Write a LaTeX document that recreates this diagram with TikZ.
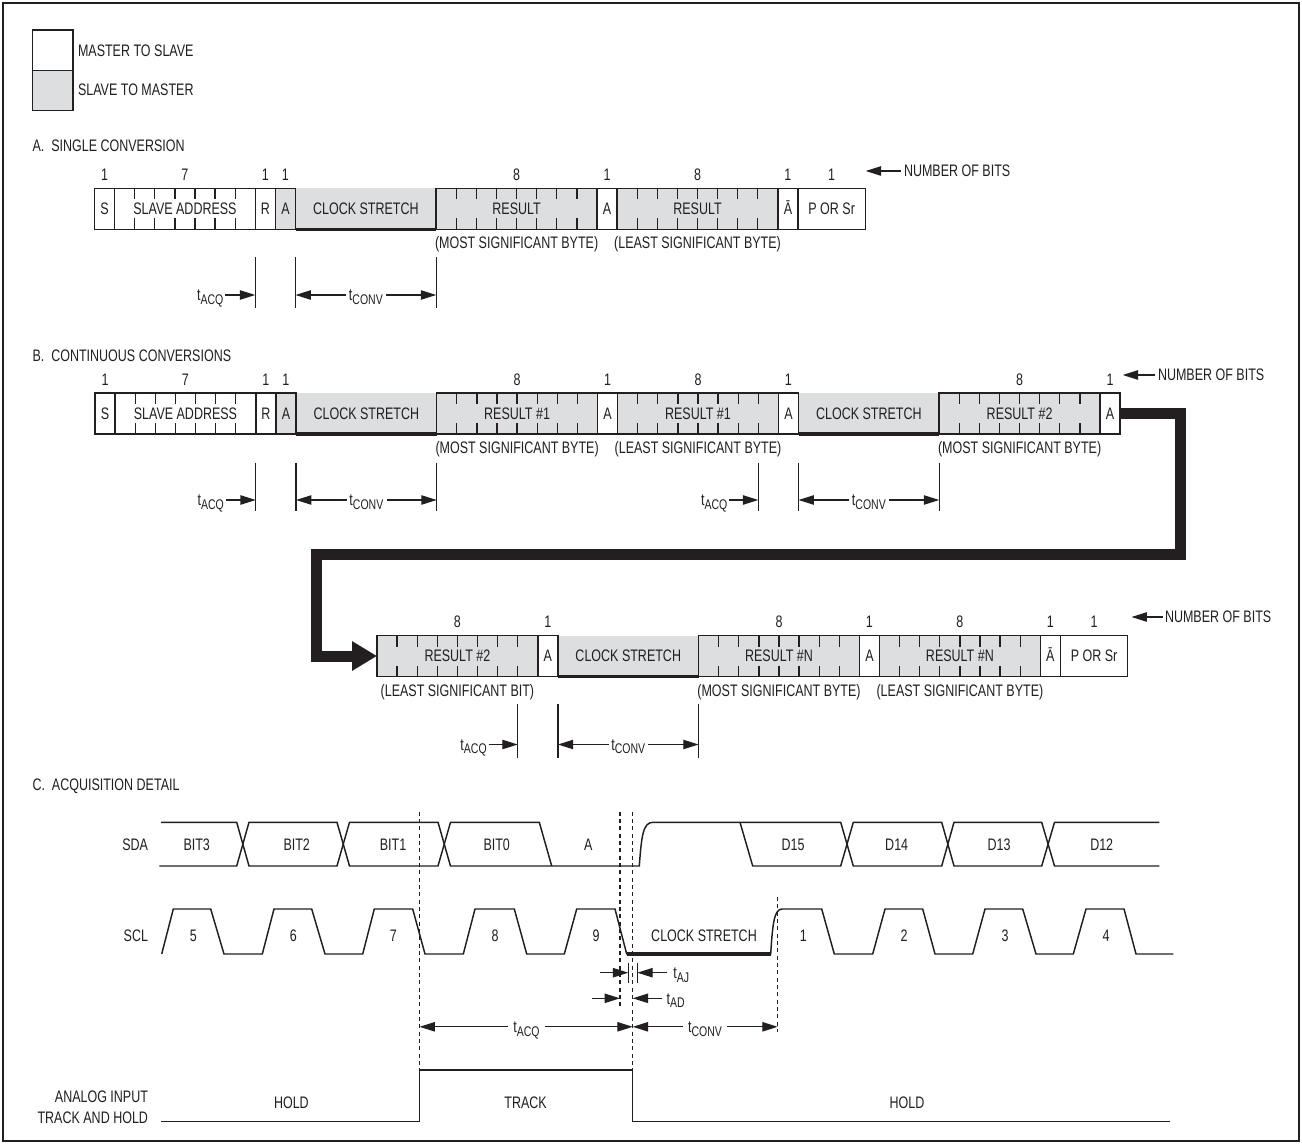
\documentclass[tikz,border=0pt]{standalone}
\usepackage{fontspec}
\setmainfont{Liberation Sans}[FakeStretch=0.75]
\usetikzlibrary{arrows.meta,calc}
\definecolor{ink}{RGB}{35,31,32}
\definecolor{fillgray}{RGB}{221,222,223}
\newcommand\tsub[1]{t\raisebox{-0.4ex}{\fontsize{10.5}{10.5}\selectfont #1}}
\def\bw{15.075pt}
\def\fh{30.75pt}
\newcommand\ticks[3]{%
  \foreach \k in {1,...,#3}{%
    \draw[tickline] ($(#1.north west)!\k/#2!(#1.north east)$) -- ++(0,11);
    \draw[tickline] ($(#1.south west)!\k/#2!(#1.south east)$) -- ++(0,-11);
  }}
\begin{document}
\begin{tikzpicture}[x=0.75pt,y=-0.75pt,line join=miter,
  every node/.style={font=\fontsize{12.5}{12.5}\selectfont, text=ink, inner sep=0pt, outer sep=0pt, text height=8.95pt, text depth=0pt},
  fbase/.style={draw=ink, line width=1.1pt, minimum height=\fh, anchor=west},
  fieldw/.style={fbase, fill=white, minimum width={#1*\bw}},
  fieldg/.style={fbase, fill=fillgray, minimum width={#1*\bw}},
  csf/.style={fill=fillgray, minimum height=\fh, minimum width={7*\bw}, anchor=west},
  tickline/.style={draw=ink, line width=1pt},
  sigline/.style={draw=ink, line width=1.1pt},
  heavy/.style={draw=ink, line width=2.3pt},
  tline/.style={draw=ink, line width=0.9pt},
  arr/.style={draw=ink, line width=0.9pt, -{Triangle[length=11.5pt,width=7pt]}},
  dline/.style={draw=ink, line width=0.8pt, dash pattern=on 3pt off 2.5pt},
  fat/.style={draw=ink, line width=8.25pt, -{Triangle[length=18.75pt,width=21pt]}},
]
\useasboundingbox (0,0) rectangle (1302,1144);
\fill[white] (0,0) rectangle (1302,1144);
\draw[ink, line width=1.5pt] (3,3.5) rectangle (1299,1141);

% legend
\draw[sigline, fill=white] (32.5,30) rectangle (73,70.5);
\draw[sigline, fill=fillgray] (32.5,70.5) rectangle (73,110.5);
\node[anchor=west] (leg-ms) at (78,51) {MASTER TO SLAVE};
\node[anchor=west] (leg-sm) at (78,90) {SLAVE TO MASTER};

% ---------------- A ----------------
\node[anchor=west] (hA) at (32.5,145.5) {A.\ \ SINGLE CONVERSION};
\node[fieldw=1] (a-s) at (94.5,209) {S};
\node[fieldw=7] (a-sa) at (a-s.east) {SLAVE ADDRESS};
\node[fieldw=1] (a-r) at (a-sa.east) {R};
\node[fieldg=1] (a-a1) at (a-r.east) {A};
\node[csf] (a-cs) at (a-a1.east) {CLOCK STRETCH};
\node[fieldg=8] (a-m) at (a-cs.east) {RESULT};
\node[fieldw=1] (a-a2) at (a-m.east) {A};
\node[fieldg=8] (a-l) at (a-a2.east) {RESULT};
\node[fieldw=1] (a-na) at (a-l.east) {\=A};
\node[fieldw=3.35] (a-p) at (a-na.east) {P OR Sr};
\draw[sigline] (a-cs.north west) -- (a-cs.south west);
\draw[heavy] (a-cs.south west) -- (a-cs.south east);
\ticks{a-sa}{7}{6}
\ticks{a-m}{8}{7}
\ticks{a-l}{8}{7}
\foreach \n/\t in {a-s/1,a-sa/7,a-r/1,a-a1/1,a-m/8,a-a2/1,a-l/8,a-na/1,a-p/1}
  \node at ($(\n.north)+(0,-13.5)$) {\t};
\node at ($(a-m.south)+(0,13.5)$) {(MOST SIGNIFICANT BYTE)};
\node at ($(a-l.south)+(0,13.5)$) {(LEAST SIGNIFICANT BYTE)};
\node[anchor=west] (a-nb) at (904,171) {NUMBER OF BITS};
\draw[arr] ([xshift=-2.5pt]a-nb.west) -- ++(-35,0);
% timing A
\foreach \p in {a-r.south west, a-a1.south east, a-cs.south east}
  \draw[tline] ($(\p)+(0,27.5)$) -- ++(0,51);
\node[anchor=east] (a-tacq) at ($(a-r.south west)+(-32,65.5)$) {\tsub{ACQ}};
\draw[arr] ([xshift=1.5pt]a-tacq.east) -- (a-r.south west |- a-tacq);
\node (a-tconv) at ($(a-a1.south east)!0.5!(a-cs.south east)+(0,65.5)$) {\tsub{CONV}};
\draw[arr] ([xshift=-2pt]a-tconv.west) -- (a-a1.south east |- a-tconv);
\draw[arr] ([xshift=2.5pt]a-tconv.east) -- (a-cs.south east |- a-tconv);

% ---------------- B ----------------
\node[anchor=west] (hB) at (32.5,356) {B.\ \ CONTINUOUS CONVERSIONS};
\node[fieldw=1] (b-s) at (95,413.5) {S};
\node[fieldw=7] (b-sa) at (b-s.east) {SLAVE ADDRESS};
\node[fieldw=1] (b-r) at (b-sa.east) {R};
\node[fieldg=1] (b-a1) at (b-r.east) {A};
\node[csf] (b-cs1) at (b-a1.east) {CLOCK STRETCH};
\node[fieldg=8] (b-m1) at (b-cs1.east) {RESULT \#1};
\node[fieldw=1] (b-a2) at (b-m1.east) {A};
\node[fieldg=8] (b-l1) at (b-a2.east) {RESULT \#1};
\node[fieldw=1] (b-a3) at (b-l1.east) {A};
\node[csf] (b-cs2) at (b-a3.east) {CLOCK STRETCH};
\node[fieldg=8] (b-m2) at (b-cs2.east) {RESULT \#2};
\node[fieldw=1] (b-a4) at (b-m2.east) {A};
\draw[sigline] (b-cs1.north west) -- (b-cs1.south west);
\draw[sigline] (b-cs2.north west) -- (b-cs2.south west);
\draw[heavy] (b-cs1.south west) -- (b-cs1.south east);
\draw[heavy] (b-cs2.south west) -- (b-cs2.south east);
\ticks{b-sa}{7}{6}
\ticks{b-m1}{8}{7}
\ticks{b-l1}{8}{7}
\ticks{b-m2}{8}{7}
\foreach \n/\t in {b-s/1,b-sa/7,b-r/1,b-a1/1,b-m1/8,b-a2/1,b-l1/8,b-a3/1,b-m2/8,b-a4/1}
  \node at ($(\n.north)+(0,-13.5)$) {\t};
\node at ($(b-m1.south)+(0,13.5)$) {(MOST SIGNIFICANT BYTE)};
\node at ($(b-l1.south)+(0,13.5)$) {(LEAST SIGNIFICANT BYTE)};
\node at ($(b-m2.south)+(0,13.5)$) {(MOST SIGNIFICANT BYTE)};
\node[anchor=west] (b-nb) at (1158,375) {NUMBER OF BITS};
\draw[arr] ([xshift=-2.5pt]b-nb.west) -- ++(-32,0);
% timing B
\coordinate (b-q) at ($(b-l1.south west)!7/8!(b-l1.south east)$);
\foreach \p in {b-r.south west, b-a1.south east, b-cs1.south east, b-q, b-a3.south east, b-cs2.south east}
  \draw[tline] ($(\p)+(0,28.5)$) -- ++(0,48);
\node[anchor=east] (b-tacq1) at ($(b-r.south west)+(-32,66)$) {\tsub{ACQ}};
\draw[arr] ([xshift=1.5pt]b-tacq1.east) -- (b-r.south west |- b-tacq1);
\node (b-tconv1) at ($(b-a1.south east)!0.5!(b-cs1.south east)+(0,66)$) {\tsub{CONV}};
\draw[arr] ([xshift=-2pt]b-tconv1.west) -- (b-a1.south east |- b-tconv1);
\draw[arr] ([xshift=2.5pt]b-tconv1.east) -- (b-cs1.south east |- b-tconv1);
\node[anchor=east] (b-tacq2) at ($(b-q)+(-31,66)$) {\tsub{ACQ}};
\draw[arr] ([xshift=1.5pt]b-tacq2.east) -- (b-q |- b-tacq2);
\node (b-tconv2) at ($(b-a3.south east)!0.5!(b-cs2.south east)+(0,66)$) {\tsub{CONV}};
\draw[arr] ([xshift=-2pt]b-tconv2.west) -- (b-a3.south east |- b-tconv2);
\draw[arr] ([xshift=2.5pt]b-tconv2.east) -- (b-cs2.south east |- b-tconv2);

% ---------------- continued row ----------------
\node[fieldg=8] (c-m2) at (377,656) {RESULT \#2};
\node[fieldw=1] (c-a1) at (c-m2.east) {A};
\node[csf] (c-cs) at (c-a1.east) {CLOCK STRETCH};
\node[fieldg=8] (c-mn) at (c-cs.east) {RESULT \#N};
\node[fieldw=1] (c-a2) at (c-mn.east) {A};
\node[fieldg=8] (c-ln) at (c-a2.east) {RESULT \#N};
\node[fieldw=1] (c-na) at (c-ln.east) {\=A};
\node[fieldw=3.35] (c-p) at (c-na.east) {P OR Sr};
\draw[sigline] (c-cs.north west) -- (c-cs.south west);
\draw[heavy] (c-cs.south west) -- (c-cs.south east);
\ticks{c-m2}{8}{7}
\ticks{c-mn}{8}{7}
\ticks{c-ln}{8}{7}
\foreach \n/\t in {c-m2/8,c-a1/1,c-mn/8,c-a2/1,c-ln/8,c-na/1,c-p/1}
  \node at ($(\n.north)+(0,-13.5)$) {\t};
\node at ($(c-m2.south)+(0,14.5)$) {(LEAST SIGNIFICANT BIT)};
\node at ($(c-mn.south)+(0,14.5)$) {(MOST SIGNIFICANT BYTE)};
\node at ($(c-ln.south)+(0,14.5)$) {(LEAST SIGNIFICANT BYTE)};
\node[anchor=west] (c-nb) at (1165,617) {NUMBER OF BITS};
\draw[arr] ([xshift=-1.5pt]c-nb.west) -- ++(-31.5,0);
\coordinate (c-q) at ($(c-m2.south west)!7/8!(c-m2.south east)$);
\foreach \p in {c-q, c-a1.south east, c-cs.south east}
  \draw[tline] ($(\p)+(0,27)$) -- ++(0,54);
\node[anchor=east] (c-tacq) at ($(c-q)+(-31,68)$) {\tsub{ACQ}};
\draw[arr] ([xshift=1.5pt]c-tacq.east) -- (c-q |- c-tacq);
\node (c-tconv) at ($(c-a1.south east)!0.5!(c-cs.south east)+(0,68)$) {\tsub{CONV}};
\draw[arr] ([xshift=-2pt]c-tconv.west) -- (c-a1.south east |- c-tconv);
\draw[arr] ([xshift=2.5pt]c-tconv.east) -- (c-cs.south east |- c-tconv);

% heavy connector
\coordinate (k1) at (1180,554.5);
\coordinate (k2) at (316.7,554.5);
\draw[fat] (b-a4.east) -| (k1) -- (k2) |- (c-m2.west);

% ---------------- C. ACQUISITION DETAIL ----------------
\node[anchor=west] (hC) at (32.5,785) {C.\ \ ACQUISITION DETAIL};
\node[anchor=east] (sda) at (148,845) {SDA};
\node[anchor=east] (scl) at (148,935.7) {SCL};
\node[anchor=east] (ai1) at (148,1096.8) {ANALOG INPUT};
\node[anchor=east] (ai2) at (148,1117.9) {TRACK AND HOLD};

\def\sT{822.3}\def\sB{866}
\draw[sigline] (161,\sT) -- (236.7,\sT) -- (249,\sB) -- (337,\sB) -- (349.5,\sT) -- (438,\sT) -- (450.5,\sB) -- (639.3,\sB)
   .. controls (641.5,836) and (643,\sT) .. (653,\sT) -- (840.7,\sT) -- (853.3,\sB) -- (941.7,\sB) -- (954,\sT) -- (1041.7,\sT) -- (1054.5,\sB) -- (1159.3,\sB);
\draw[sigline] (159.3,\sB) -- (236.7,\sB) -- (249,\sT) -- (337,\sT) -- (349.5,\sB) -- (438,\sB) -- (450.5,\sT) -- (539.3,\sT) -- (551.7,\sB);
\draw[sigline] (740,\sT) -- (752.7,\sB) -- (840.7,\sB) -- (853.3,\sT) -- (941.7,\sT) -- (954,\sB) -- (1041.7,\sB) -- (1054.5,\sT) -- (1159.3,\sT);
\foreach \x/\t in {196.7/BIT3,296.7/BIT2,393/BIT1,496.7/BIT0,588.3/A,793/D15,896.7/D14,999/D13,1101.7/D12}
  \node at (\x,845) {\t};

\def\cH{909}\def\cL{954}
\draw[sigline] (161.7,\cL) -- (173.3,\cH) -- (210.7,\cH) -- (224,\cL) -- (262.3,\cL) -- (274,\cH) -- (311.7,\cH) -- (325,\cL)
  -- (362.7,\cL) -- (374.3,\cH) -- (412.7,\cH) -- (425,\cL) -- (463.3,\cL) -- (475,\cH) -- (514.3,\cH) -- (526.7,\cL)
  -- (564.3,\cL) -- (576.7,\cH) -- (615,\cH) -- (626.7,\cL) -- (770.7,\cL)
  .. controls (772.5,925) and (774,\cH) .. (782,\cH) -- (821.7,\cH) -- (834.3,\cL) -- (872.7,\cL) -- (885,\cH) -- (922.7,\cH)
  -- (935,\cL) -- (972.7,\cL) -- (985,\cH) -- (1022.7,\cH) -- (1036,\cL) -- (1073.3,\cL) -- (1086,\cH) -- (1124,\cH) -- (1136,\cL) -- (1173.3,\cL);
\draw[heavy] (626.7,\cL) -- (770.7,\cL);
\foreach \x/\t in {193.3/5,293.3/6,393.3/7,495/8,596/9,704/CLOCK STRETCH,803.3/1,904/2,1005/3,1106/4}
  \node at (\x,935.7) {\t};

% dashed reference lines
\coordinate (d1) at (419.5,811.7);
\coordinate (d2) at (620,811.7);
\coordinate (d3) at (632.7,811.7);
\coordinate (d4) at (777.7,897);
\draw[dline] (d1) -- ++(0,258.3);
\draw[dline] (d2) -- ++(0,194);
\draw[dline] (d3) -- ++(0,258.3);
\draw[dline] (d4) -- ++(0,135);

% tAJ
\coordinate (aj1) at (628.3,972.7);
\coordinate (aj2) at (637.3,972.7);
\draw[tline] ($(aj1)+(0,-10)$) -- ++(0,20);
\draw[tline] ($(aj2)+(0,-10)$) -- ++(0,20);
\draw[arr] ($(aj1)+(-28.3,0)$) -- (aj1);
\node[anchor=west] (taj) at (673.3,972.7) {\tsub{AJ}};
\draw[arr] ([xshift=-5pt]taj.west) -- (aj2);
% tAD
\coordinate (ad1) at (620,998.3);
\coordinate (ad2) at (632.7,998.3);
\draw[arr] ($(ad1)+(-28.3,0)$) -- (ad1);
\node[anchor=west] (tad) at (666.7,998.3) {\tsub{AD}};
\draw[arr] ([xshift=-3.5pt]tad.west) -- (ad2);
% tACQ / tCONV
\node (tacqc) at (526.5,1026.8) {\tsub{ACQ}};
\draw[arr] ([xshift=-4pt]tacqc.west) -- (d1 |- tacqc);
\draw[arr] ([xshift=4pt]tacqc.east) -- (d3 |- tacqc);
\node (tconvc) at (705,1026.8) {\tsub{CONV}};
\draw[arr] ([xshift=-4pt]tconvc.west) -- (d3 |- tconvc);
\draw[arr] ([xshift=4pt]tconvc.east) -- (d4 |- tconvc);

% track and hold
\draw[sigline] (161.2,1121.7) -- (419.5,1121.7) -- (419.5,1070) -- (632.7,1070) -- (632.7,1121.7) -- (1170,1121.7);
\node (hold1) at (291.4,1102.6) {HOLD};
\node (track) at (525.6,1102.6) {TRACK};
\node (hold2) at (907,1102.6) {HOLD};
\end{tikzpicture}
\end{document}
